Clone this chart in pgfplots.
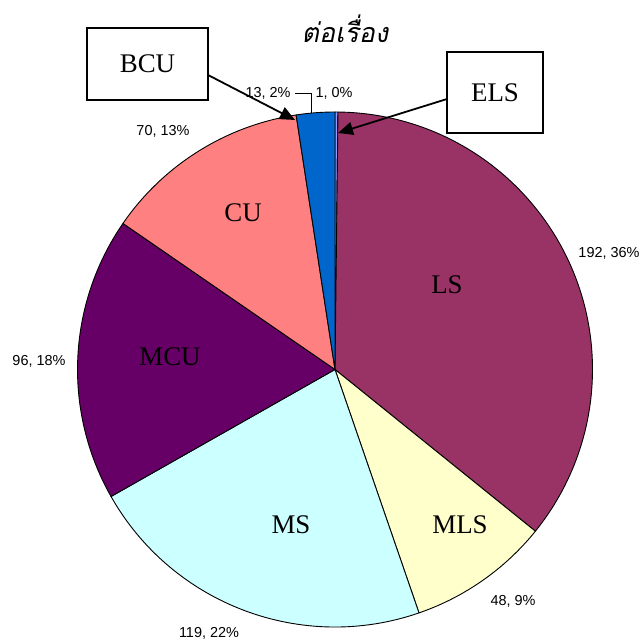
\documentclass[border=0pt]{standalone}
\usepackage{pgfplots}
\pgfplotsset{compat=1.18}
\usepackage{fontspec}
\setmainfont{Liberation Serif}
\newfontfamily\arialfont{Liberation Sans}
\newfontfamily\thaifont[Script=Thai,FakeSlant=0.2]{Loma}
\usetikzlibrary{arrows.meta}
\definecolor{ELScol}{HTML}{9999FF}
\definecolor{LScol}{HTML}{993366}
\definecolor{MLScol}{HTML}{FFFFCC}
\definecolor{MScol}{HTML}{CCFFFF}
\definecolor{MCUcol}{HTML}{660066}
\definecolor{CUcol}{HTML}{FF8080}
\definecolor{BCUcol}{HTML}{0066CC}
% values in clockwise order from 12 o'clock
\def\pievalues{1/ELScol, 192/LScol, 48/MLScol, 119/MScol, 96/MCUcol, 70/CUcol, 13/BCUcol}
\begin{document}
\begin{tikzpicture}
\useasboundingbox (0,0) rectangle (644bp,644bp);
\gdef\pietotal{0}
\foreach \v/\c in \pievalues {
  \pgfmathsetmacro\newtot{\pietotal+\v}
  \global\let\pietotal\newtot
}
\gdef\cum{0}
\gdef\pieslices{}
\foreach \v/\c in \pievalues {
  \pgfmathsetmacro\a{90-\cum/\pietotal*360}
  \pgfmathsetmacro\newcum{\cum+\v}
  \pgfmathsetmacro\b{90-\newcum/\pietotal*360}
  \ifx\pieslices\empty \xdef\pieslices{\a/\b/\c}\else \xdef\pieslices{\pieslices,\a/\b/\c}\fi
  \global\let\cum\newcum
}
\begin{axis}[
  at={(0,0)}, anchor=south west,
  hide axis, scale only axis, width=644bp, height=644bp,
  xmin=0, xmax=644, ymin=0, ymax=644, clip=false]
\pgfplotsextra{
  \pgfkeys{/pgf/fpu=false}
  \foreach \a/\b/\c in \pieslices {
    \filldraw[fill=\c, draw=black, line width=0.9bp, line join=round]
      (axis cs:335,274.5) -- ++(\a:257.5bp) arc[start angle=\a, end angle=\b, radius=257.5bp] -- cycle;
  }
}
% value labels
\begin{scope}[every node/.style={font=\arialfont\fontsize{14.5}{17}\selectfont, inner sep=0pt}]
\node at (axis cs:609,391) {192, 36\%};
\node at (axis cs:513,43) {48, 9\%};
\node at (axis cs:209,11) {119, 22\%};
\node at (axis cs:39,283) {96, 18\%};
\node at (axis cs:163,513) {70, 13\%};
\node at (axis cs:268,551) {13, 2\%};
\node at (axis cs:334,551) {1, 0\%};
\end{scope}
\draw[black, line width=0.8bp] (axis cs:295,551) -- (axis cs:311,551) -- (axis cs:311,531);
% category labels
\begin{scope}[every node/.style={font=\fontsize{27}{30}\selectfont, inner sep=0pt}]
\node at (axis cs:447,359) {LS};
\node at (axis cs:460,119) {MLS};
\node at (axis cs:291,119) {MS};
\node at (axis cs:170,287) {MCU};
\node at (axis cs:243,431) {CU};
\end{scope}
% boxes
\draw[black, line width=1.3bp, fill=white] (axis cs:87,616) rectangle (axis cs:208,544);
\node[font=\fontsize{27}{30}\selectfont, inner sep=0pt] at (axis cs:147.5,580) {BCU};
\draw[black, line width=1.3bp, fill=white] (axis cs:447,592) rectangle (axis cs:543,511);
\node[font=\fontsize{27}{30}\selectfont, inner sep=0pt] at (axis cs:495,551.5) {ELS};
\draw[black, line width=1.8bp, -{Triangle[length=15bp,width=13bp]}] (axis cs:208,569) -- (axis cs:295,524);
\draw[black, line width=1.8bp, -{Triangle[length=15bp,width=13bp]}] (axis cs:447,545) -- (axis cs:338,511);
% title
\node[font=\thaifont\fontsize{27}{30}\selectfont, inner sep=0pt] at (axis cs:345,615) {ต่อเรื่อง};
\end{axis}
\end{tikzpicture}
\end{document}
